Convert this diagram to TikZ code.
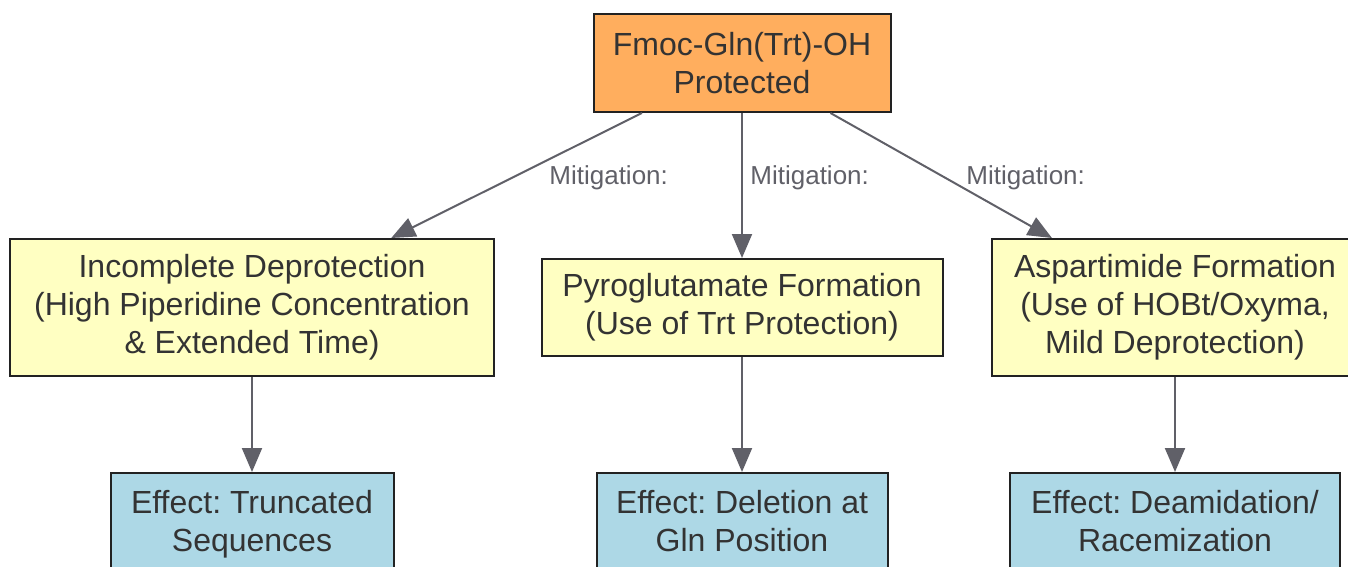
\documentclass[tikz,border=0pt]{standalone}
\usepackage{fontspec}
\setmainfont{Liberation Sans}
\usetikzlibrary{arrows.meta}
\frenchspacing
\definecolor{arancio}{HTML}{FFAE5E}
\definecolor{giallo}{HTML}{FFFFC2}
\definecolor{azzurro}{HTML}{ADD8E6}
\definecolor{bordo}{HTML}{222222}
\definecolor{freccia}{HTML}{606068}
\definecolor{testo}{HTML}{333333}
\tikzset{
	box/.style={draw=bordo, line width=1pt, align=center, text=testo, inner sep=0pt,
		font=\fontsize{16}{19}\selectfont},
	flow/.style={draw=freccia, line width=1pt, -{Triangle[length=12pt, width=10pt]}},
	lbl/.style={text=freccia, anchor=west, inner sep=0pt, font=\fontsize{13}{15}\selectfont}
}
\begin{document}
\begin{tikzpicture}[x=0.5pt, y=-0.5pt]
			\useasboundingbox (0, 0) rectangle (1348, 567);
			% partenza
			\node[box, fill=arancio, minimum width=148.5pt, minimum height=49pt] (fmoc) at (742, 63) {Fmoc-Gln(Trt)-OH\\Protected};
			% problemi
			\node[box, fill=giallo, minimum width=242pt, minimum height=68.5pt] (incompl) at (252, 307.5) {Incomplete Deprotection\\(High Piperidine Concentration\\\& Extended Time)};
			\node[box, fill=giallo, minimum width=200.5pt, minimum height=48.5pt] (pyro) at (742, 307.5) {Pyroglutamate Formation\\(Use of Trt Protection)};
			\node[box, fill=giallo, minimum width=183pt, minimum height=68.5pt] (aspart) at (1175, 307.5) {Aspartimide Formation\\(Use of HOBt/Oxyma,\\Mild Deprotection)};
			% effetti
			\node[box, fill=azzurro, minimum width=141.5pt, minimum height=51pt] (trunc) at (252, 524) {Effect: Truncated\\Sequences\vphantom{p}};
			\node[box, fill=azzurro, minimum width=145.5pt, minimum height=51pt] (delet) at (742, 524) {Effect: Deletion at\\Gln Position\vphantom{p}};
			\node[box, fill=azzurro, minimum width=165pt, minimum height=51pt] (deamid) at (1175, 524) {Effect: Deamidation/\\Racemization\vphantom{p}};
			% frecce
			\draw[flow] (fmoc) -- (incompl);
			\draw[flow] (fmoc) -- (pyro);
			\draw[flow] (fmoc) -- (aspart);
			\draw[flow] (incompl) -- (trunc);
			\draw[flow] (pyro) -- (delet);
			\draw[flow] (aspart) -- (deamid);
			% etichette
			\node[lbl] (mitA) at (549, 178) {Mitigation:};
			\node[lbl] (mitB) at (750, 178) {Mitigation:};
			\node[lbl] (mitC) at (966, 178) {Mitigation:};
		\end{tikzpicture}
\end{document}
